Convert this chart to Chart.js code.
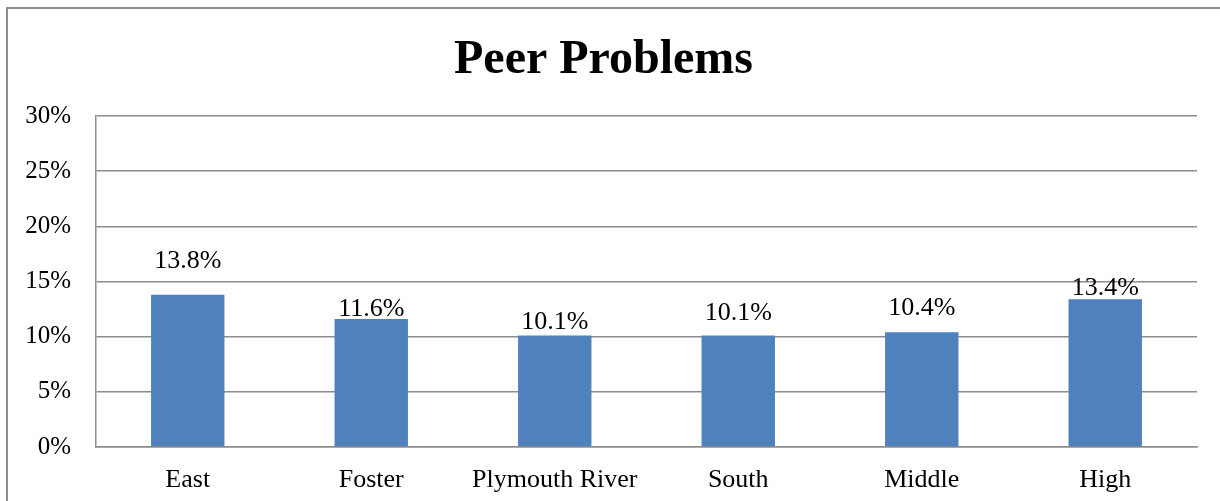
<!DOCTYPE html>
<html>
<head>
<meta charset="utf-8">
<script src="https://cdn.jsdelivr.net/npm/chart.js@4"></script>
<style>
  html, body { margin: 0; padding: 0; background: #ffffff; }
  #wrap { width: 1220px; height: 501px; position: relative; overflow: hidden; }
</style>
</head>
<body>
<div id="wrap"><canvas id="chart" width="1220" height="501"></canvas></div>
<script>
// Schools and their share of students reporting peer problems (%)
const schools = ['East', 'Foster', 'Plymouth River', 'South', 'Middle', 'High'];
const peerProblems = [13.8, 11.6, 10.1, 10.1, 10.4, 13.4];
const yTicks = [0, 5, 10, 15, 20, 25, 30];

// How far each value label sits above its bar (px)
const labelLift = [34, 10, 13, 22, 24, 11];

const SERIF = '"Liberation Serif", "Times New Roman", serif';
const GRID = '#8c8c8c';

// Outer frame around the whole chart
const framePlugin = {
  id: 'frame',
  beforeDraw(chart) {
    const ctx = chart.ctx;
    ctx.save();
    ctx.strokeStyle = GRID;
    ctx.lineWidth = 2;
    ctx.strokeRect(7, 8, chart.width + 40, chart.height + 40);
    ctx.restore();
  }
};

// Value labels above the bars
const valueLabels = {
  id: 'valueLabels',
  afterDatasetsDraw(chart) {
    const ctx = chart.ctx;
    const meta = chart.getDatasetMeta(0);
    ctx.save();
    ctx.font = '26px ' + SERIF;
    ctx.fillStyle = '#000000';
    ctx.textAlign = 'center';
    ctx.textBaseline = 'middle';
    meta.data.forEach((bar, i) => {
      const v = chart.data.datasets[0].data[i];
      ctx.fillText(v.toFixed(1) + '%', bar.x, bar.y - labelLift[i]);
    });
    ctx.restore();
  }
};

new Chart(document.getElementById('chart'), {
  type: 'bar',
  data: {
    labels: schools,
    datasets: [{
      data: peerProblems,
      backgroundColor: '#4f81bd',
      borderWidth: 0,
      barPercentage: 0.4,
      categoryPercentage: 1.0
    }]
  },
  options: {
    responsive: false,
    animation: false,
    layout: { padding: { left: 10, right: 23, top: 0, bottom: 0 } },
    plugins: {
      legend: { display: false },
      tooltip: { enabled: false },
      title: {
        display: true,
        text: 'Peer Problems',
        color: '#000000',
        font: { family: SERIF, size: 48, weight: 'bold', lineHeight: 1.2 },
        padding: { top: 32, bottom: 26.4 }
      }
    },
    scales: {
      x: {
        grid: { display: false, drawTicks: false },
        border: { display: true, color: GRID, width: 1.5 },
        ticks: {
          color: '#000000',
          font: { family: SERIF, size: 26 },
          padding: 18,
          maxRotation: 0,
          autoSkip: false
        },
        afterFit(scale) { scale.height = 54; }
      },
      y: {
        min: 0,
        max: 30,
        afterBuildTicks(scale) {
          scale.ticks = yTicks.map(v => ({ value: v }));
        },
        grid: { color: GRID, lineWidth: 1.5, drawTicks: false },
        border: { display: true, color: GRID, width: 1.5 },
        ticks: {
          color: '#000000',
          font: { family: SERIF, size: 25 },
          padding: 25,
          callback: v => v + '%'
        },
        afterFit(scale) { scale.width = 86; }
      }
    }
  },
  plugins: [framePlugin, valueLabels]
});
</script>
</body>
</html>
